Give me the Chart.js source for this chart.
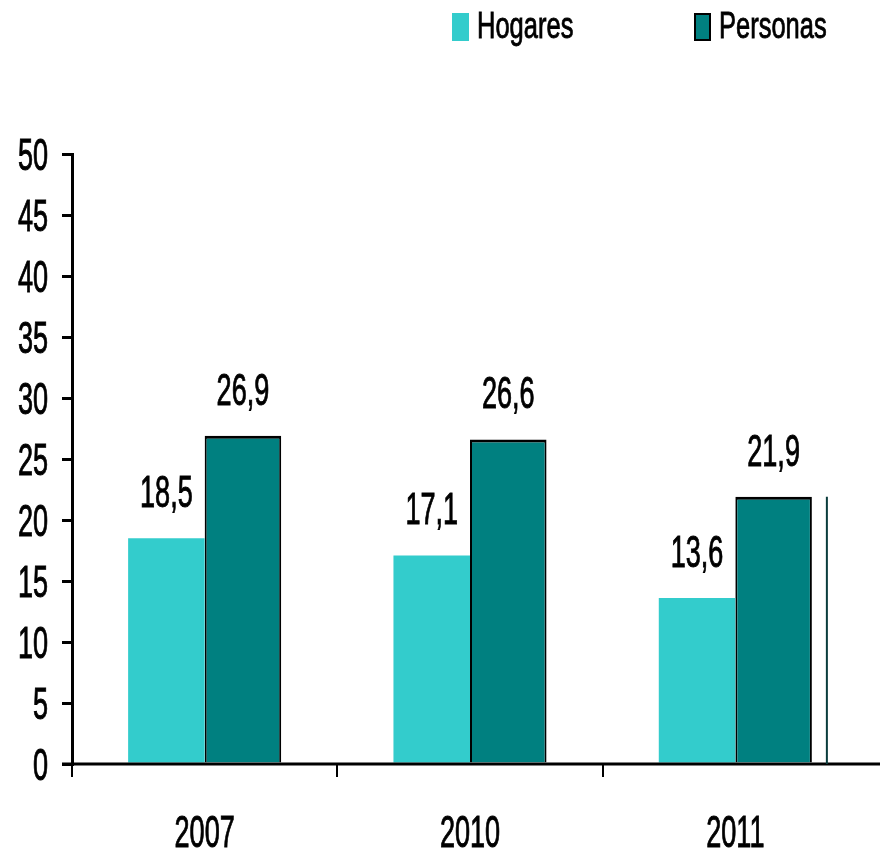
<!DOCTYPE html>
<html>
<head>
<meta charset="utf-8">
<script src="https://cdn.jsdelivr.net/npm/chart.js@4.4.0/dist/chart.umd.min.js"></script>
<style>
    html, body { margin: 0; padding: 0; background: #fff; }
    canvas { display: block; }
</style>
</head>
<body>
<canvas id="povertyChart" width="880" height="853"></canvas>
<script>
// Data
const years = ['2007', '2010', '2011'];
const hogares = [18.5, 17.1, 13.6];
const personas = [26.9, 26.6, 21.9];
const yTicks = [0, 5, 10, 15, 20, 25, 30, 35, 40, 45, 50];

// Arial-like face squeezed sideways and stretched up, like the original
const FONT = '"Liberation Sans", Arial, sans-serif';

function tallText(ctx, text, x, y, size, sx, sy, align) {
    ctx.save();
    ctx.translate(x, y);
    ctx.scale(sx, sy);
    ctx.font = size + 'px ' + FONT;
    ctx.textAlign = align;
    ctx.textBaseline = 'alphabetic';
    ctx.fillStyle = '#000';
    ctx.strokeStyle = '#000';
    ctx.lineWidth = 0.7; // a bit heavier strokes
    ctx.fillText(text, 0, 0);
    ctx.strokeText(text, 0, 0);
    ctx.restore();
}

function formatValue(v) {
    return v.toFixed(1).replace('.', ',');
}

// Draws labels, x axis line, legend and the stray line at the right
const textPlugin = {
    id: 'tallText',
    afterDraw(chart) {
        const ctx = chart.ctx;
        const area = chart.chartArea;
        const xScale = chart.scales.x;
        const yScale = chart.scales.y;
        const size = 33, sx = 0.82, sy = 1.36;
        const capHalf = 0.716 * size * sy / 2;

        // y tick labels
        yScale.ticks.forEach(t => {
            const y = yScale.getPixelForValue(t.value);
            tallText(ctx, String(t.value), area.left - 24, y + capHalf, size, sx, sy, 'right');
        });

        // x labels
        years.forEach((year, i) => {
            tallText(ctx, year, xScale.getPixelForValue(i), area.bottom + 83, size, sx, sy, 'center');
        });

        // value labels above bars
        chart.data.datasets.forEach((ds, di) => {
            const meta = chart.getDatasetMeta(di);
            meta.data.forEach((bar, i) => {
                tallText(ctx, formatValue(ds.data[i]), bar.x, bar.y - 31, size, sx, sy, 'center');
            });
        });

        // x axis line running to the edge
        ctx.save();
        ctx.strokeStyle = '#000';
        ctx.lineWidth = 3;
        ctx.beginPath();
        ctx.moveTo(area.left - 10, area.bottom);
        ctx.lineTo(chart.width, area.bottom);
        ctx.stroke();

        // leftover vertical line right of the last Personas bar
        const lastBar = chart.getDatasetMeta(1).data[2];
        const lx = lastBar.x + lastBar.width / 2 + 15;
        ctx.strokeStyle = '#0a3c3c';
        ctx.lineWidth = 2;
        ctx.beginPath();
        ctx.moveTo(lx, lastBar.y);
        ctx.lineTo(lx, area.bottom);
        ctx.stroke();
        ctx.restore();

        // legend
        const boxX = [452, 694];
        chart.data.datasets.forEach((ds, di) => {
            ctx.save();
            ctx.fillStyle = ds.backgroundColor;
            ctx.fillRect(boxX[di], 13, 17, 28);
            if (di === 1) {
                ctx.strokeStyle = '#000';
                ctx.lineWidth = 2;
                ctx.strokeRect(boxX[di] + 1, 14, 15, 26);
            }
            ctx.restore();
            tallText(ctx, ds.label, boxX[di] + 25, 38, 30, 0.85, 1.21, 'left');
        });
    }
};

const ctx = document.getElementById('povertyChart').getContext('2d');
const povertyChart = new Chart(ctx, {
    type: 'bar',
    data: {
        labels: years,
        datasets: [{
            label: 'Hogares',
            data: hogares,
            backgroundColor: '#33CCCC',
            borderWidth: 0
        }, {
            label: 'Personas',
            data: personas,
            backgroundColor: '#008080',
            borderColor: '#000',
            borderWidth: { top: 3, left: 2, right: 2, bottom: 0 }
        }]
    },
    options: {
        responsive: false,
        animation: false,
        devicePixelRatio: 1,
        layout: {
            padding: { top: 154, left: 62, right: 12, bottom: 76 }
        },
        datasets: {
            bar: { categoryPercentage: 0.577, barPercentage: 1.0 }
        },
        scales: {
            x: {
                ticks: { display: false },
                border: { display: false },
                grid: {
                    offset: true,
                    drawOnChartArea: false,
                    tickLength: 13,
                    lineWidth: 2,
                    color: c => (c.type === 'tick' ? '#000' : 'rgba(0,0,0,0)')
                }
            },
            y: {
                min: 0,
                max: 50,
                afterBuildTicks: scale => {
                    scale.ticks = yTicks.map(v => ({ value: v }));
                },
                ticks: { display: false },
                border: { display: true, color: '#000', width: 3 },
                grid: {
                    drawOnChartArea: false,
                    tickLength: 10,
                    lineWidth: 3,
                    color: '#000'
                }
            }
        },
        plugins: {
            legend: { display: false },
            tooltip: { enabled: false }
        }
    },
    plugins: [textPlugin]
});
</script>
</body>
</html>
